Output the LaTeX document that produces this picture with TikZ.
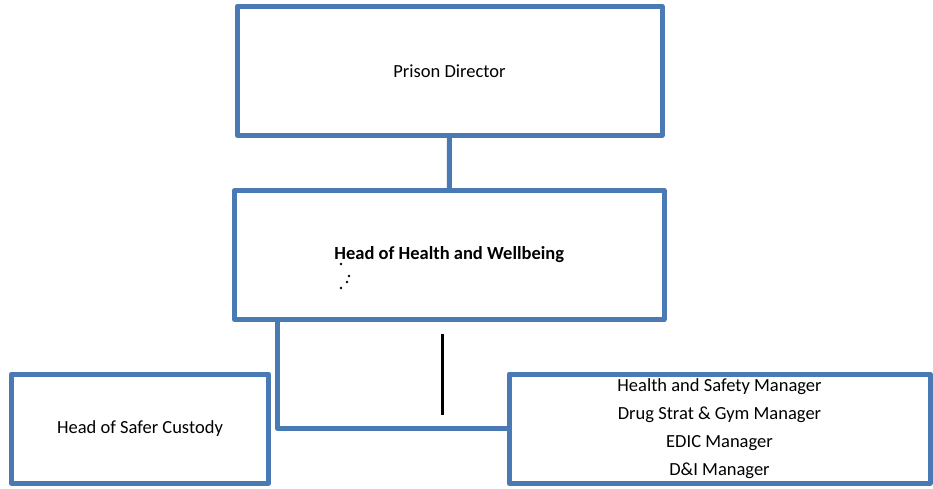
\documentclass[tikz,border=0pt]{standalone}
\usepackage{fontspec}
\setmainfont{Carlito}
\usepackage{tikz}
\usetikzlibrary{positioning, calc}

\definecolor{boxblue}{RGB}{74,122,180}

\begin{document}
\begin{tikzpicture}[x=1pt, y=-1pt,
    every node/.style={align=center},
    rolebox/.style={draw=boxblue, line width=5pt, line join=round, fill=white, inner sep=0pt},
    link/.style={draw=boxblue, line width=5pt, line join=round}]
    \useasboundingbox (0,0) rectangle (933,488);
    % Top box
    \node[rolebox, minimum width=425pt, minimum height=128.5pt,
          font=\fontsize{18.5}{22}\selectfont] (director) at (449.5,70.75) {Prison Director};
    % Middle box
    \node[rolebox, minimum width=429.5pt, minimum height=129pt,
          font=\fontsize{18.5}{22}\selectfont\bfseries] (hhw) at (449.25,255) {Head of Health and Wellbeing};
    % Lower boxes
    \node[rolebox, minimum width=257pt, minimum height=109pt,
          font=\fontsize{18.5}{22}\selectfont] (safer) at (140,428.5) {Head of Safer Custody};
    \node[rolebox, minimum width=421pt, minimum height=109pt,
          font=\fontsize{18.5}{28}\selectfont] (managers) at (719.5,428.5)
        {Health and Safety Manager\\Drug Strat \& Gym Manager\\EDIC Manager\\D\&I Manager};
    % Connectors
    \coordinate (elbow) at (277.5,428);
    \draw[link] (director) -- (hhw);
    \draw[link] (hhw.south -| elbow) |- (managers.west);
    % Stray marks
    \coordinate (bar top) at (442,334);
    \coordinate (bar end) at (442,415);
    \draw[line width=3pt] (bar top) -- (bar end);
    \foreach \p in {(341,264), (349,276), (347,282), (341,288)}
        \fill \p circle (1.3);
\end{tikzpicture}
\end{document}
